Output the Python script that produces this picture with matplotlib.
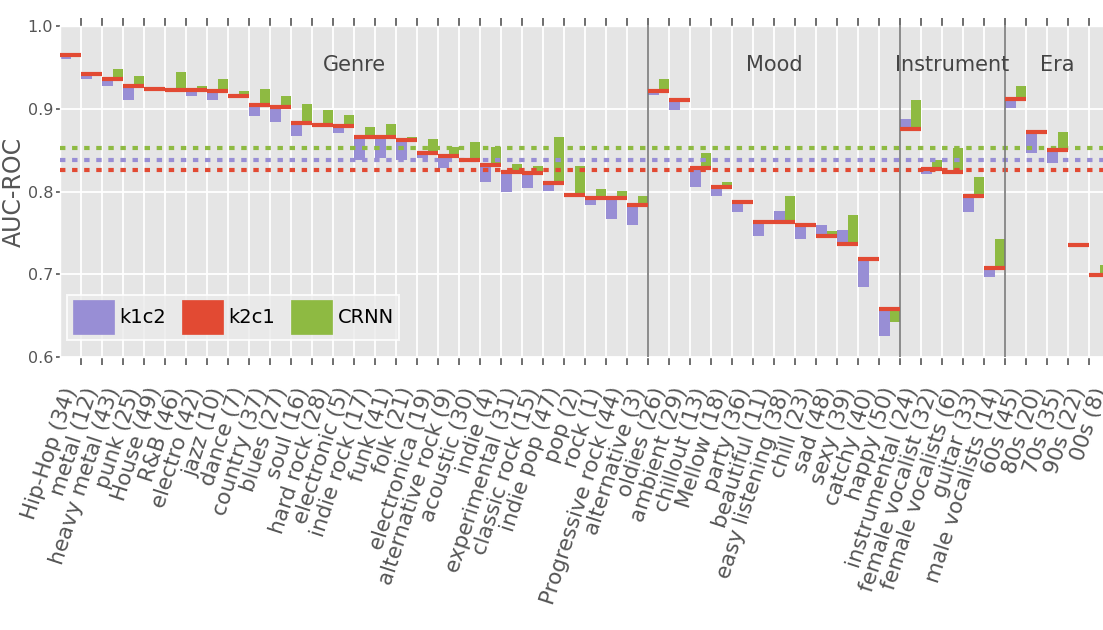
import matplotlib
matplotlib.use("Agg")
import matplotlib.pyplot as plt
import numpy as np

plt.style.use("ggplot")
plt.rcParams["font.family"] = ["DejaVu Sans"]

tags = ["Hip-Hop (34)", "metal (12)", "heavy metal (43)", "punk (25)", "House (49)",
        "R&B (46)", "electro (42)", "jazz (10)", "dance (7)", "country (37)",
        "blues (27)", "soul (16)", "hard rock (28)", "electronic (5)", "indie rock (17)",
        "funk (41)", "folk (21)", "electronica (19)", "alternative rock (9)", "acoustic (30)",
        "indie (4)", "experimental (31)", "classic rock (15)", "indie pop (47)", "pop (2)",
        "rock (1)", "Progressive rock (44)", "alternative (3)", "oldies (26)", "ambient (29)",
        "chillout (13)", "Mellow (18)", "party (36)", "beautiful (11)", "easy listening (38)",
        "chill (23)", "sad (48)", "sexy (39)", "catchy (40)", "happy (50)",
        "instrumental (24)", "female vocalist (32)", "female vocalists (6)", "guitar (33)",
        "male vocalists (14)", "60s (45)", "80s (20)", "70s (35)", "90s (22)", "00s (8)"]

k2c1 = [0.965, 0.942, 0.936, 0.927, 0.924, 0.923, 0.923, 0.921, 0.915, 0.904,
        0.902, 0.883, 0.880, 0.879, 0.866, 0.866, 0.862, 0.846, 0.843, 0.838,
        0.832, 0.824, 0.822, 0.810, 0.796, 0.792, 0.792, 0.784, 0.921, 0.910,
        0.829, 0.806, 0.787, 0.763, 0.763, 0.759, 0.746, 0.737, 0.718, 0.658,
        0.876, 0.827, 0.824, 0.795, 0.708, 0.912, 0.872, 0.850, 0.735, 0.699]
k1c2 = [0.960, 0.936, 0.928, 0.910, 0.923, 0.922, 0.916, 0.910, 0.915, 0.891,
        0.884, 0.867, 0.879, 0.871, 0.838, 0.840, 0.838, 0.841, 0.828, 0.838,
        0.811, 0.799, 0.804, 0.801, 0.795, 0.784, 0.767, 0.759, 0.917, 0.899,
        0.805, 0.794, 0.775, 0.746, 0.777, 0.743, 0.760, 0.753, 0.685, 0.625,
        0.888, 0.821, 0.823, 0.775, 0.697, 0.901, 0.846, 0.834, 0.735, 0.699]
crnn = [0.964, 0.943, 0.948, 0.939, 0.924, 0.945, 0.927, 0.936, 0.921, 0.924,
        0.915, 0.906, 0.899, 0.892, 0.878, 0.882, 0.866, 0.863, 0.854, 0.860,
        0.854, 0.833, 0.831, 0.866, 0.831, 0.803, 0.801, 0.795, 0.936, 0.910,
        0.846, 0.812, 0.787, 0.763, 0.795, 0.759, 0.752, 0.772, 0.718, 0.642,
        0.910, 0.838, 0.852, 0.817, 0.743, 0.927, 0.872, 0.872, 0.735, 0.711]

# average AUC over all tags
mean_k1c2 = 0.838
mean_k2c1 = 0.826
mean_crnn = 0.853

groups = ["Genre", "Mood", "Instrument", "Era"]
group_sizes = [28, 12, 5, 5]

c_k1c2 = "#988ED5"
c_k2c1 = "#E24A33"
c_crnn = "#8EBA42"

fig = plt.figure(figsize=(11.03, 6.3), dpi=100)
ax = fig.add_axes([60 / 1103, 273 / 630, 1050 / 1103, 331 / 630])

x = np.arange(len(tags))
k2c1_a = np.array(k2c1)
ax.bar(x, np.array(k1c2) - k2c1_a, 0.5, bottom=k2c1_a, align="edge",
       color=c_k1c2, zorder=2)
ax.bar(x + 0.5, np.array(crnn) - k2c1_a, 0.5, bottom=k2c1_a, align="edge",
       color=c_crnn, zorder=2)
ax.hlines(k2c1, x, x + 1, colors=c_k2c1, lw=3, zorder=4)

for m, c in [(mean_crnn, c_crnn), (mean_k1c2, c_k1c2), (mean_k2c1, c_k2c1)]:
    ax.axhline(m, color=c, lw=3, ls=(0, (1.3, 1.6)), zorder=3)

# group separators and titles
edges = np.cumsum([0] + group_sizes)
for e in edges[1:-1]:
    ax.axvline(e, color="#777777", lw=1.2, zorder=3)
for g, a, b in zip(groups, edges[:-1], edges[1:]):
    ax.text((a + b) / 2, 0.953, g, ha="center", va="center", fontsize=15, color="#444444")

ax.set_xlim(0, len(tags))
ax.set_ylim(0.6, 1.0)
ax.set_xticks(x + 1)
ax.set_xticklabels(tags, rotation=72, ha="right", fontsize=15.5, color="#555555")
ax.set_yticks([0.6, 0.7, 0.8, 0.9, 1.0])
ax.set_yticklabels(["0.6", "0.7", "0.8", "0.9", "1.0"], fontsize=11.5, color="#555555")
ax.tick_params(axis="x", top=True, direction="out", length=6, width=1.2,
               color="#555555", pad=14)
ax.tick_params(axis="y", direction="out", length=3, width=1.2, color="#555555", pad=2)
ax.grid(True, color="white", lw=1.3)
ax.set_axisbelow(True)
ax.set_ylabel("AUC-ROC", fontsize=17, color="#555555")
ax.yaxis.set_label_coords(-0.033, 0.5)

handles = [plt.Rectangle((0, 0), 1, 1, color=c) for c in (c_k1c2, c_k2c1, c_crnn)]
leg = ax.legend(handles, ["k1c2", "k2c1", "CRNN"], loc="lower left",
                bbox_to_anchor=(0.0067, 0.051), borderaxespad=0, ncol=3,
                fontsize=14, handlelength=2.1, handleheight=2.3, handletextpad=0.3,
                columnspacing=0.8, borderpad=0.3, frameon=True, fancybox=False)
leg.get_frame().set_facecolor("#EBEBEB")
leg.get_frame().set_edgecolor("white")
leg.get_frame().set_linewidth(1.5)

fig.savefig("out.png", dpi=100)
